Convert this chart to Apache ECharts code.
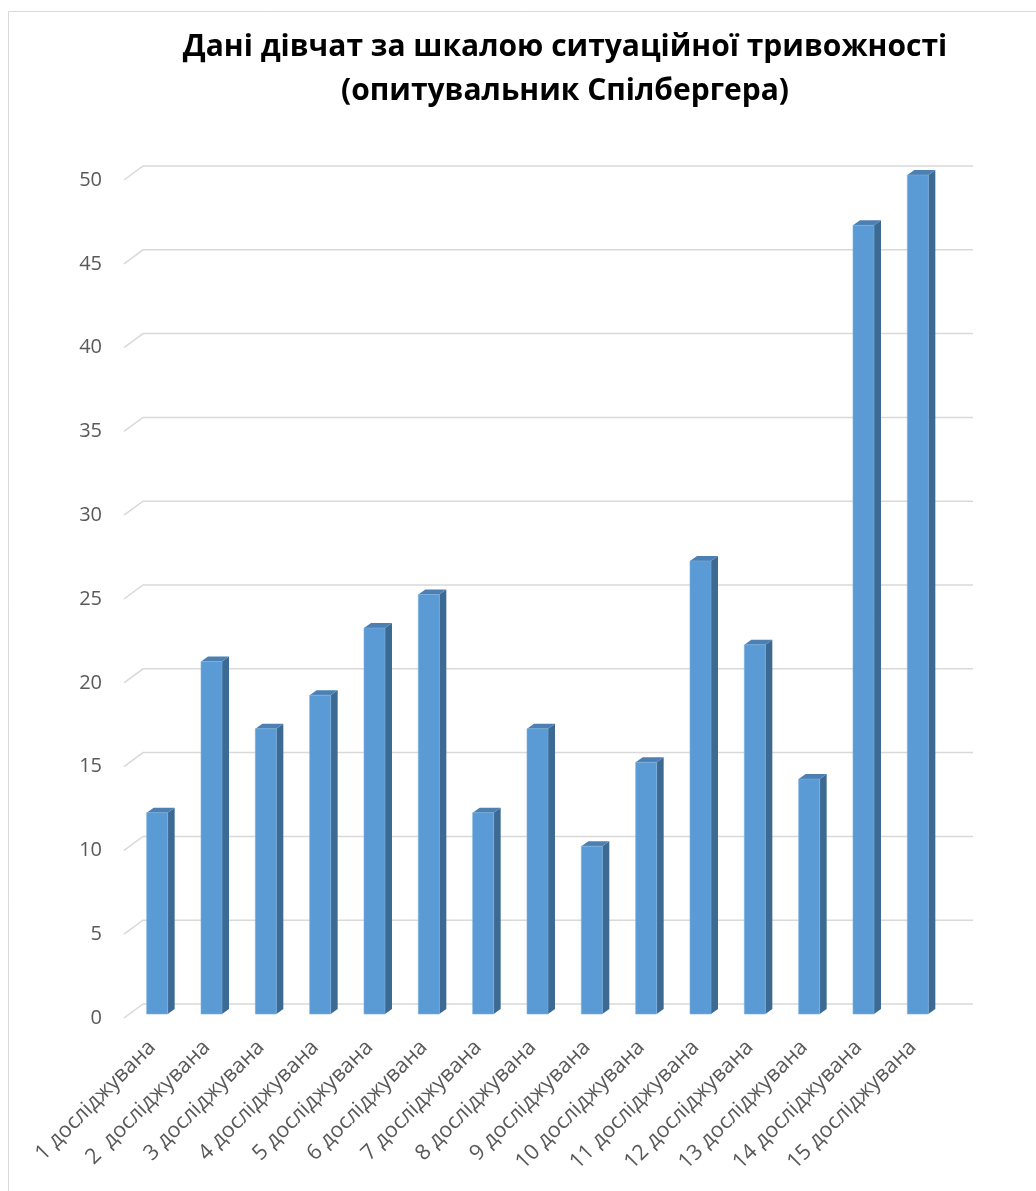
<!DOCTYPE html>
<html>
<head>
<meta charset="utf-8">
<title>Дані дівчат за шкалою ситуаційної тривожності</title>
<script src="https://cdn.jsdelivr.net/npm/echarts@6/dist/echarts.min.js"></script>
<style>
  html, body { margin: 0; padding: 0; background: #ffffff; }
  #chart { width: 1036px; height: 1191px; }
</style>
</head>
<body>
<div id="chart"></div>
<script>
// Respondents (girls) and their situational anxiety scores (Spielberger inventory)
const categories = [
  '1 досліджувана', '2  досліджувана', '3 досліджувана', '4 досліджувана',
  '5 досліджувана', '6 досліджувана', '7 досліджувана', '8 досліджувана',
  '9 досліджувана', '10 досліджувана', '11 досліджувана', '12 досліджувана',
  '13 досліджувана', '14 досліджувана', '15 досліджувана'
];
const scores = [12, 21, 17, 19, 23, 25, 12, 17, 10, 15, 27, 22, 14, 47, 50];
const yTicks = [0, 5, 10, 15, 20, 25, 30, 35, 40, 45, 50];

const FONT = '"Open Sans", "Noto Sans", sans-serif';
const GRID_COLOR = '#D9D9D9';
const LABEL_COLOR = '#595959';

// 3D column geometry
const FACE_W = 21;     // front face width
const DEPTH_X = 7;     // side face horizontal depth
const DEPTH_Y = 5;     // side face vertical rise

const chart = echarts.init(document.getElementById('chart'), null, { renderer: 'canvas' });

function renderWallLine(params, api) {
  const v = api.value(0);
  const pl = api.coord([0, v]);
  const pr = api.coord([1, v]);
  return {
    type: 'polyline',
    shape: { points: [[pl[0] - 19, pl[1] + 14], [pl[0], pl[1]], [pr[0], pr[1]]] },
    style: { stroke: GRID_COLOR, lineWidth: 1.5, fill: null }
  };
}

function renderColumn(params, api) {
  const top = api.coord([api.value(0), api.value(1)]);
  const base = api.coord([api.value(0), 0]);
  const x0 = top[0] - FACE_W / 2;
  const x1 = top[0] + FACE_W / 2;
  const yt = top[1];
  const yb = base[1];
  return {
    type: 'group',
    children: [
      {
        type: 'polygon',
        shape: { points: [[x1, yt], [x1 + DEPTH_X, yt - DEPTH_Y], [x1 + DEPTH_X, yb - DEPTH_Y], [x1, yb]] },
        style: { fill: '#3D6A93' }
      },
      {
        type: 'polygon',
        shape: { points: [[x0, yt], [x1, yt], [x1 + DEPTH_X, yt - DEPTH_Y], [x0 + DEPTH_X, yt - DEPTH_Y]] },
        style: { fill: '#4C80B3' }
      },
      {
        type: 'rect',
        shape: { x: x0, y: yt, width: FACE_W, height: yb - yt },
        style: { fill: '#5B9BD5', stroke: '#79AEDF', lineWidth: 0.6 }
      }
    ]
  };
}

const option = {
  backgroundColor: '#ffffff',
  animation: false,
  title: {
    text: 'Дані дівчат за шкалою ситуаційної тривожності\n(опитувальник Спілбергера)',
    left: 560,
    top: 20,
    textAlign: 'center',
    textStyle: {
      fontFamily: FONT,
      fontSize: 30,
      fontWeight: 'bold',
      color: '#000000',
      lineHeight: 44
    }
  },
  graphic: [
    {
      type: 'rect',
      shape: { x: 8.5, y: 11.5, width: 1200, height: 1400 },
      style: { fill: null, stroke: GRID_COLOR, lineWidth: 1 },
      silent: true,
      z: -10
    }
  ],
  grid: [
    // back wall (gridlines)
    { left: 143, right: 63, top: 166, bottom: 187 },
    // columns
    { left: 130, right: 91, top: 175, bottom: 177 },
    // value labels plane
    { left: 124, right: 63, top: 180, bottom: 173 }
  ],
  xAxis: [
    { gridIndex: 0, type: 'value', min: 0, max: 1, show: false },
    {
      gridIndex: 1,
      type: 'category',
      data: categories,
      axisLine: { show: false },
      axisTick: { show: false },
      axisLabel: {
        rotate: 45,
        interval: 0,
        margin: 25,
        padding: [0, 7, 0, 0],
        color: LABEL_COLOR,
        fontFamily: FONT,
        fontSize: 21.5
      }
    },
    { gridIndex: 2, type: 'value', min: 0, max: 1, show: false }
  ],
  yAxis: [
    { gridIndex: 0, type: 'value', min: 0, max: 50, interval: 5, show: false },
    { gridIndex: 1, type: 'value', min: 0, max: 50, interval: 5, show: false },
    {
      gridIndex: 2,
      type: 'value',
      min: 0,
      max: 50,
      interval: 5,
      axisLine: { show: false },
      axisTick: { show: false },
      splitLine: { show: false },
      axisLabel: {
        margin: 22,
        color: LABEL_COLOR,
        fontFamily: FONT,
        fontSize: 20
      }
    }
  ],
  series: [
    {
      type: 'custom',
      name: 'wall',
      xAxisIndex: 0,
      yAxisIndex: 0,
      renderItem: renderWallLine,
      data: yTicks.map(v => [v]),
      encode: { y: 0 },
      silent: true,
      z: 1
    },
    {
      type: 'custom',
      name: 'Бали',
      xAxisIndex: 1,
      yAxisIndex: 1,
      renderItem: renderColumn,
      data: scores.map((v, i) => [i, v]),
      encode: { x: 0, y: 1 },
      z: 5
    }
  ]
};

chart.setOption(option);
</script>
</body>
</html>
